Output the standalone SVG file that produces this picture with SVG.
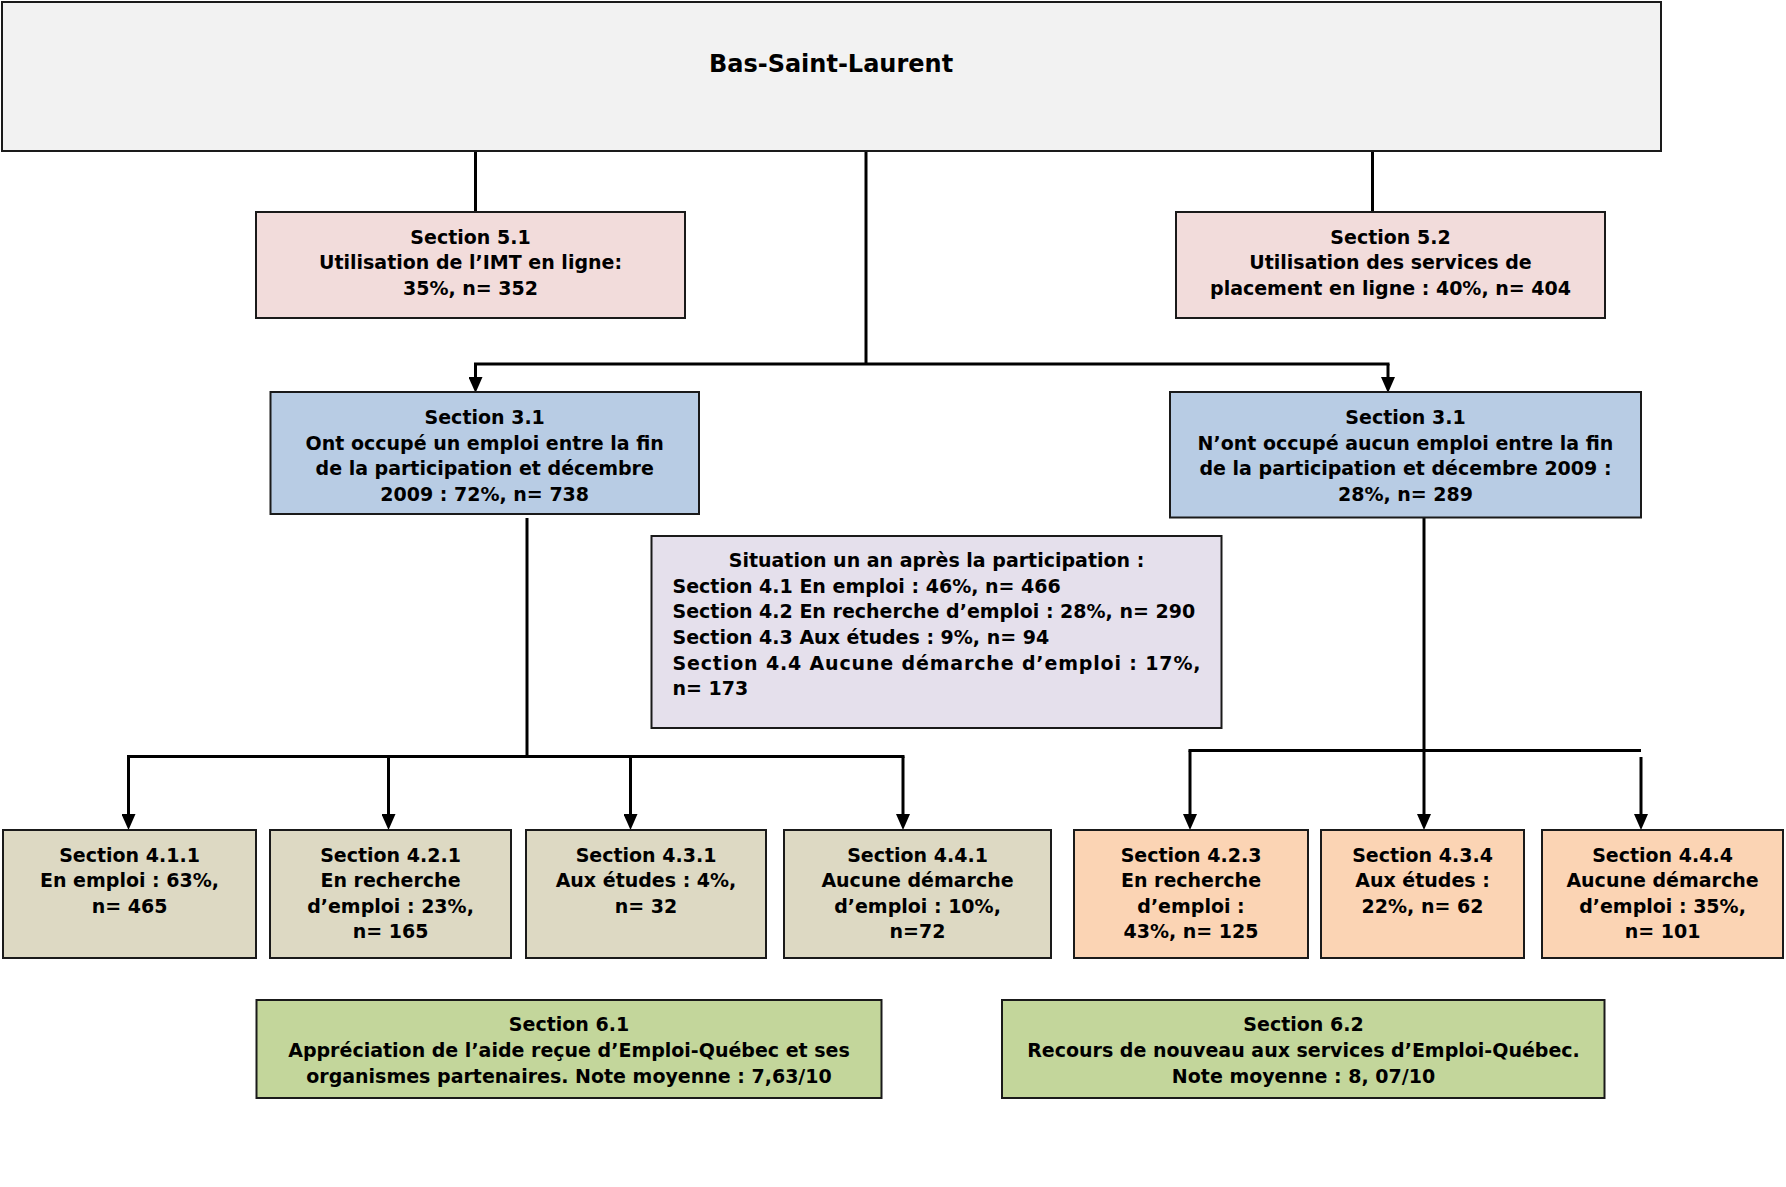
<svg xmlns="http://www.w3.org/2000/svg" width="1786" height="1187" viewBox="0 0 1786 1187">
<defs>
<marker id="arr" markerUnits="userSpaceOnUse" markerWidth="16" markerHeight="14" viewBox="0 0 16 14" refX="11" refY="7" orient="auto">
<path d="M0,0 L16,7 L0,14 z" fill="#000"/>
</marker>
<style>
.box{stroke:#1a1a1a;stroke-width:2}
.t{font-family:"DejaVu Sans","Liberation Sans",sans-serif;font-weight:bold;font-size:19px;fill:#000;text-anchor:middle}
.l{text-anchor:start}
.title{font-size:24px}
.c{fill:none;stroke:#000;stroke-width:3}
.a{marker-end:url(#arr)}
</style>
</defs>
<rect width="1786" height="1187" fill="#fff"/>

<g id="connectors">
<line class="c" x1="475.5" y1="151" x2="475.5" y2="212"/>
<line class="c" x1="1372.5" y1="151" x2="1372.5" y2="212"/>
<line class="c" x1="866" y1="151" x2="866" y2="364"/>
<line class="c" x1="474" y1="364" x2="1389.5" y2="364"/>
<line class="c a" x1="475.5" y1="364" x2="475.5" y2="388"/>
<line class="c a" x1="1388" y1="364" x2="1388" y2="388"/>
<line class="c" x1="527" y1="518" x2="527" y2="757"/>
<line class="c" x1="127" y1="756.5" x2="904.5" y2="756.5"/>
<line class="c a" x1="128.5" y1="756.5" x2="128.5" y2="825"/>
<line class="c a" x1="388.5" y1="756.5" x2="388.5" y2="825"/>
<line class="c a" x1="630.5" y1="756.5" x2="630.5" y2="825"/>
<line class="c a" x1="903" y1="756.5" x2="903" y2="825"/>
<line class="c" x1="1424" y1="518" x2="1424" y2="751"/>
<line class="c" x1="1188.5" y1="750.5" x2="1641" y2="750.5"/>
<line class="c a" x1="1190" y1="750.5" x2="1190" y2="825"/>
<line class="c a" x1="1424" y1="750.5" x2="1424" y2="825"/>
<line class="c a" x1="1641" y1="757" x2="1641" y2="825"/>
</g>

<g id="root">
<rect class="box" x="2" y="2" width="1659" height="149" fill="#F2F2F2"/>
<text class="t title" x="831" y="71.5">Bas-Saint-Laurent</text>
</g>

<g id="s51">
<rect class="box" x="256" y="212" width="429" height="106" fill="#F2DCDB"/>
<text class="t" x="470.5" y="243.5">Section 5.1</text>
<text class="t" x="470.5" y="269">Utilisation de l’IMT en ligne:</text>
<text class="t" x="470.5" y="295">35%, n= 352</text>
</g>

<g id="s52">
<rect class="box" x="1176" y="212" width="429" height="106" fill="#F2DCDB"/>
<text class="t" x="1390.5" y="243.5">Section 5.2</text>
<text class="t" x="1390.5" y="269">Utilisation des services de</text>
<text class="t" x="1390.5" y="295">placement en ligne : 40%, n= 404</text>
</g>

<g id="s31a">
<rect class="box" x="270.5" y="392" width="428.5" height="122" fill="#B8CCE4"/>
<text class="t" x="484.7" y="424">Section 3.1</text>
<text class="t" x="484.7" y="449.5">Ont occupé un emploi entre la fin</text>
<text class="t" x="484.7" y="475">de la participation et décembre</text>
<text class="t" x="484.7" y="500.5">2009 : 72%, n= 738</text>
</g>

<g id="s31b">
<rect class="box" x="1170" y="392" width="471" height="125.5" fill="#B8CCE4"/>
<text class="t" x="1405.5" y="424">Section 3.1</text>
<text class="t" x="1405.5" y="449.5">N’ont occupé aucun emploi entre la fin</text>
<text class="t" x="1405.5" y="475">de la participation et décembre 2009 :</text>
<text class="t" x="1405.5" y="501">28%, n= 289</text>
</g>

<g id="situation">
<rect class="box" x="651.5" y="536" width="570" height="192" fill="#E5E0EC"/>
<text class="t" x="936.5" y="567">Situation un an après la participation :</text>
<text class="t l" x="672.5" y="592.7">Section 4.1 En emploi : 46%, n= 466</text>
<text class="t l" x="672.5" y="618.3">Section 4.2 En recherche d’emploi : 28%, n= 290</text>
<text class="t l" x="672.5" y="644">Section 4.3 Aux études : 9%, n= 94</text>
<text class="t l" x="672.5" y="669.6" textLength="528" lengthAdjust="spacing">Section  4.4  Aucune  démarche  d’emploi :  17%,</text>
<text class="t l" x="672.5" y="695.3">n= 173</text>
</g>

<g id="s411">
<rect class="box" x="3" y="830" width="253" height="128" fill="#DDD9C3"/>
<text class="t" x="129.5" y="861.5">Section 4.1.1</text>
<text class="t" x="129.5" y="887">En emploi : 63%,</text>
<text class="t" x="129.5" y="912.5">n= 465</text>
</g>

<g id="s421">
<rect class="box" x="270" y="830" width="241" height="128" fill="#DDD9C3"/>
<text class="t" x="390.5" y="861.5">Section 4.2.1</text>
<text class="t" x="390.5" y="887">En recherche</text>
<text class="t" x="390.5" y="912.5">d’emploi : 23%,</text>
<text class="t" x="390.5" y="938">n= 165</text>
</g>

<g id="s431">
<rect class="box" x="526" y="830" width="240" height="128" fill="#DDD9C3"/>
<text class="t" x="646" y="861.5">Section 4.3.1</text>
<text class="t" x="646" y="887">Aux études : 4%,</text>
<text class="t" x="646" y="912.5">n= 32</text>
</g>

<g id="s441">
<rect class="box" x="784" y="830" width="267" height="128" fill="#DDD9C3"/>
<text class="t" x="917.5" y="861.5">Section 4.4.1</text>
<text class="t" x="917.5" y="887">Aucune démarche</text>
<text class="t" x="917.5" y="912.5">d’emploi : 10%,</text>
<text class="t" x="917.5" y="938">n=72</text>
</g>

<g id="s423">
<rect class="box" x="1074" y="830" width="234" height="128" fill="#FBD4B4"/>
<text class="t" x="1191" y="861.5">Section 4.2.3</text>
<text class="t" x="1191" y="887">En recherche</text>
<text class="t" x="1191" y="912.5">d’emploi :</text>
<text class="t" x="1191" y="938">43%, n= 125</text>
</g>

<g id="s434">
<rect class="box" x="1321" y="830" width="203" height="128" fill="#FBD4B4"/>
<text class="t" x="1422.5" y="861.5">Section 4.3.4</text>
<text class="t" x="1422.5" y="887">Aux études :</text>
<text class="t" x="1422.5" y="912.5">22%, n= 62</text>
</g>

<g id="s444">
<rect class="box" x="1542" y="830" width="241" height="128" fill="#FBD4B4"/>
<text class="t" x="1662.5" y="861.5">Section 4.4.4</text>
<text class="t" x="1662.5" y="887">Aucune démarche</text>
<text class="t" x="1662.5" y="912.5">d’emploi : 35%,</text>
<text class="t" x="1662.5" y="938">n= 101</text>
</g>

<g id="s61">
<rect class="box" x="256.5" y="1000" width="625" height="98" fill="#C3D69B"/>
<text class="t" x="569" y="1031">Section 6.1</text>
<text class="t" x="569" y="1057">Appréciation de l’aide reçue d’Emploi-Québec et ses</text>
<text class="t" x="569" y="1083.3">organismes partenaires. Note moyenne : 7,63/10</text>
</g>

<g id="s62">
<rect class="box" x="1002" y="1000" width="602.5" height="98" fill="#C3D69B"/>
<text class="t" x="1303.5" y="1031">Section 6.2</text>
<text class="t" x="1303.5" y="1057">Recours de nouveau aux services d’Emploi-Québec.</text>
<text class="t" x="1303.5" y="1083.3">Note moyenne : 8, 07/10</text>
</g>
</svg>
